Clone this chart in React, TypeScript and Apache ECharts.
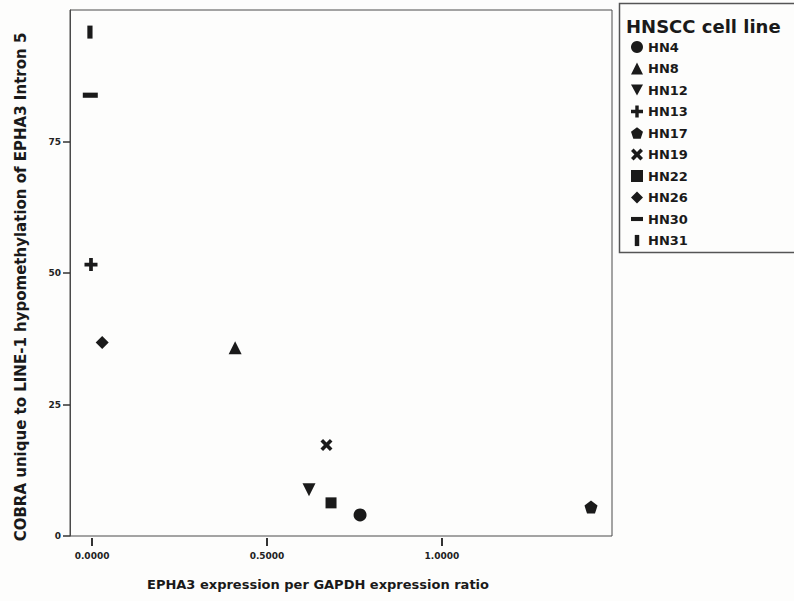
import React, { useEffect, useRef } from "react";
import * as echarts from "echarts";

const FONT = "DejaVu Sans";
const INK = "#1a1a1a";

const cellLines = ["HN4", "HN8", "HN12", "HN13", "HN17", "HN19", "HN22", "HN26", "HN30", "HN31"];
const epha3Ratio = [0.766, 0.409, 0.62, -0.003, 1.426, 0.67, 0.683, 0.029, -0.005, -0.006];
const cobraValue = [4.0, 35.8, 8.8, 51.6, 5.5, 17.3, 6.3, 36.8, 83.8, 95.8];
const symbols = [
  "circle",
  "triangle",
  "path://M0 0L14 0L7 13Z",
  "path://M5 0h4v5h5v4h-5v5h-4v-5h-5v-4h5z",
  "path://M7 0L14 5.1L11.3 13.3L2.7 13.3L0 5.1Z",
  "path://M0 3L3 0L7 4L11 0L14 3L10 7L14 11L11 14L7 10L3 14L0 11L4 7Z",
  "rect",
  "diamond",
  "path://M0 0M14 14M0 4.6h14v4.8H0z",
  "path://M0 0M14 14M4.4 0.5h5.2v13H4.4z",
];
const symbolSizes = [13, 13, 13, 13, 13, 12, 11, 13, 15, 14];
const xTicks = [0, 0.5, 1.0];
const yTicks = [0, 25, 50, 75];

export default function App() {
  const ref = useRef<HTMLDivElement>(null);
  useEffect(() => {
    if (!ref.current) return;
    const chart = echarts.init(ref.current, undefined, { renderer: "svg" });
    const series = cellLines.map((name, i) => ({
      type: "scatter",
      name,
      symbol: symbols[i],
      symbolSize: symbolSizes[i],
      data: [[epha3Ratio[i], cobraValue[i]]],
      itemStyle: { color: INK, opacity: 1 },
      emphasis: { disabled: true },
    }));
    chart.setOption({
      animation: false,
      backgroundColor: "#fdfdfc",
      textStyle: { fontFamily: FONT },
      grid: {
        left: 70,
        top: 10,
        right: 182,
        bottom: 65,
        show: true,
        borderColor: "#4a4a4a",
        borderWidth: 1,
        backgroundColor: "transparent",
      },
      xAxis: {
        type: "value",
        min: -0.063,
        max: 1.486,
        offset: 2,
        splitLine: { show: false },
        axisLine: { show: false, onZero: false },
        axisTick: { show: true, length: 8, customValues: xTicks, lineStyle: { color: "#333", width: 2 } },
        axisLabel: {
          customValues: xTicks,
          formatter: (v: number) => v.toFixed(4),
          fontSize: 9,
          fontWeight: "bold",
          color: "#222",
          fontFamily: FONT,
          margin: 13,
        },
      },
      yAxis: {
        type: "value",
        min: 0,
        max: 100,
        interval: 25,
        splitLine: { show: false },
        axisLine: { show: true, onZero: false, lineStyle: { color: "#4a4a4a", width: 1 } },
        axisTick: { show: true, length: 7, customValues: yTicks, lineStyle: { color: "#333", width: 1.5 } },
        axisLabel: {
          customValues: yTicks,
          fontSize: 9,
          fontWeight: "bold",
          color: "#222",
          fontFamily: FONT,
          margin: 9,
        },
      },
      legend: {
        orient: "vertical",
        left: 626,
        top: 35,
        itemWidth: 12,
        itemHeight: 12,
        itemGap: 7.5,
        selectedMode: false,
        data: cellLines,
        textStyle: {
          fontSize: 13,
          fontWeight: "bold",
          color: INK,
          fontFamily: FONT,
          lineHeight: 14,
        },
      },
      graphic: [
        {
          type: "rect",
          shape: { x: 619.5, y: 3.5, width: 180, height: 249 },
          style: { fill: "none", stroke: "#555", lineWidth: 1.5 },
        },
        {
          type: "text",
          x: 626,
          y: 26,
          style: {
            text: "HNSCC cell line",
            fontSize: 18,
            fontFamily: FONT,
            fontWeight: "bold",
            fill: INK,
            verticalAlign: "middle",
            align: "left",
          },
        },
        {
          type: "text",
          x: 21,
          y: 287,
          rotation: Math.PI / 2,
          style: {
            text: "COBRA unique to LINE-1 hypomethylation of EPHA3 Intron 5",
            fontSize: 15,
            fontFamily: FONT,
            fontWeight: "bold",
            fill: INK,
            align: "center",
            verticalAlign: "middle",
          },
        },
        {
          type: "text",
          x: 318,
          y: 584,
          style: {
            text: "EPHA3 expression per GAPDH expression ratio",
            fontSize: 13,
            fontFamily: FONT,
            fontWeight: "bold",
            fill: INK,
            align: "center",
            verticalAlign: "middle",
          },
        },
      ],
      series,
    });
    return () => chart.dispose();
  }, []);
  return (
    <div
      ref={ref}
      style={{ position: "absolute", left: 0, top: 0, width: 794, height: 601 }}
    />
  );
}
